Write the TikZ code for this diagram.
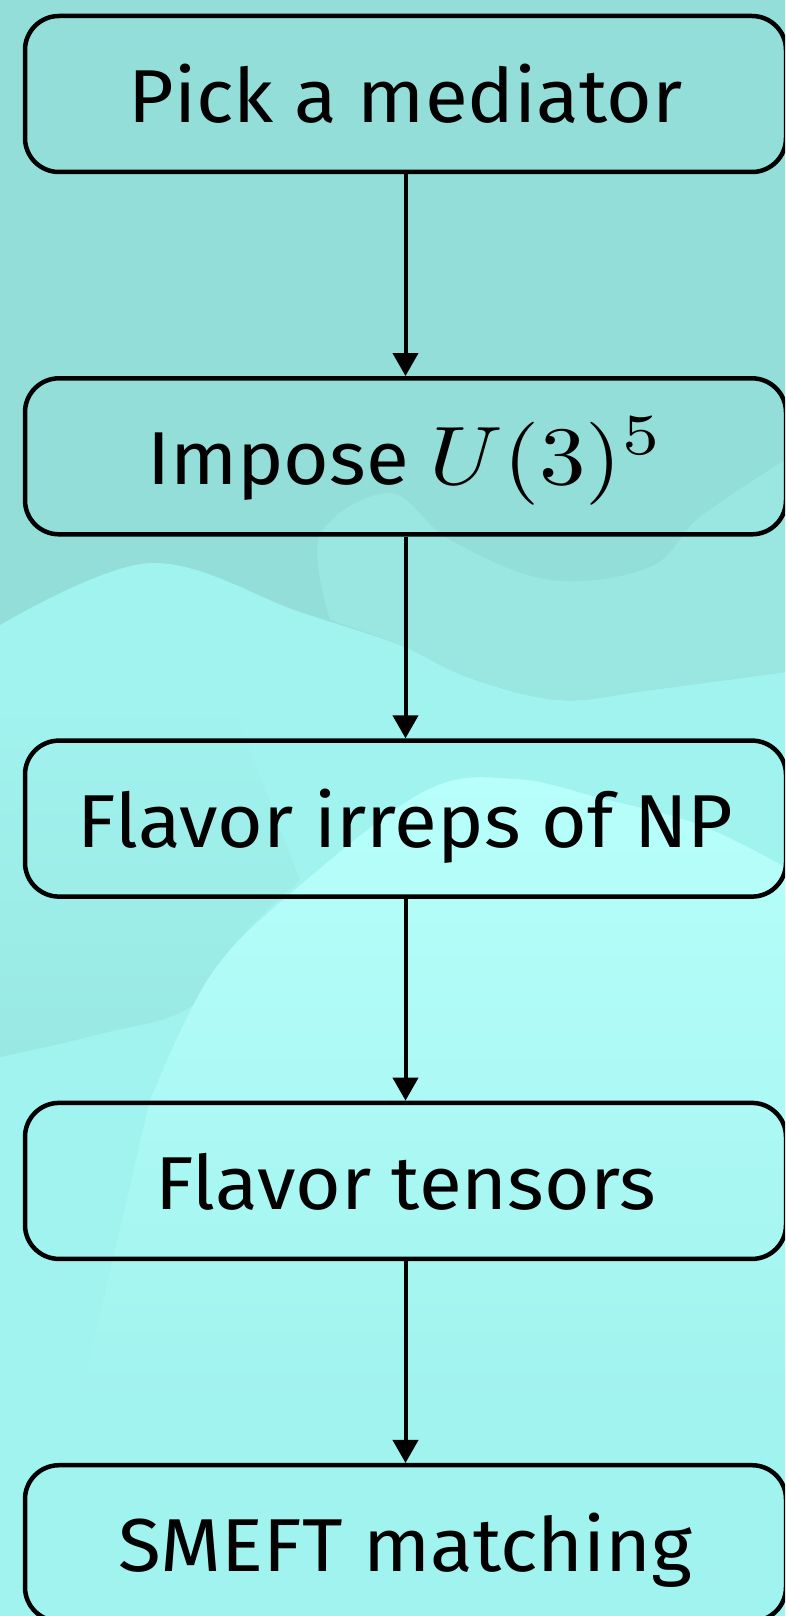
\RequirePackage{fix-cm}
\documentclass[tikz,border=0pt]{standalone}
\usepackage{fontspec}
\setmainfont[FakeStretch=1.045]{Fira Sans}
\usetikzlibrary{arrows.meta}
\definecolor{bgB}{HTML}{A1F3EF}
\definecolor{bgT}{HTML}{94DED9}
\definecolor{bgM}{HTML}{9AE6E1}
\definecolor{bgL}{HTML}{99E8E3}
\definecolor{bgBright}{HTML}{B8FFFB}
\newcommand{\bigmath}[1]{\scalebox{9.3}[8.3]{\fontsize{10}{12}\selectfont\(#1\)}}
\begin{document}
\begin{tikzpicture}[x=1pt,y=-1pt,
  flowbox/.style={draw=black, line width=4.5pt, rounded corners=34pt,
    minimum width=761pt, minimum height=156pt, inner sep=0pt,
    text height=57pt, text depth=0pt, font=\fontsize{75pt}{90pt}\selectfont},
  flowarrow/.style={line width=4pt, -{Triangle[length=23pt,width=25pt]}}]
\path[use as bounding box, clip] (0,0) rectangle (785,1616);
% background
\fill[bgB] (0,0) rectangle (785,1616);
\shade[top color=bgB, bottom color=bgL]
  (0,700) -- (230,700) -- (300,880) -- plot[smooth, tension=0.6] coordinates {(300,880) (240,938) (190,1007) (100,1034) (0,1057)} -- cycle;
\shade[top color=bgBright, bottom color=bgB]
  plot[smooth, tension=0.6] coordinates {(150,1100) (210,976) (290,894) (425,791) (515,779) (600,798) (700,825) (785,867)} -- (785,1400) -- (80,1400) -- cycle;
\fill[bgT] (0,0) -- (0,625) -- plot[smooth, tension=0.6] coordinates {(0,625) (150,563) (300,612) (400,645) (470,678) (560,700) (650,690) (785,672)} -- (785,0) -- cycle;
\fill[bgM] plot[smooth, tension=0.6] coordinates {(785,460) (700,517) (650,567) (550,580) (450,540) (390,493) (320,535) (330,620)}
  -- plot[smooth, tension=0.6] coordinates {(330,620) (400,645) (470,678) (560,700) (650,690) (785,672)} -- cycle;
% boxes
\node[flowbox] (b1) at (405.5,94) {Pick a mediator};
\node[flowbox] (b2) at (405.5,456.3) {Impose \bigmath{U(3)^5}};
\node[flowbox] (b3) at (405.5,818.6) {Flavor irreps of NP};
\node[flowbox] (b4) at (405.5,1180.9) {Flavor tensors};
\node[flowbox] (b5) at (405.5,1543.2) {SMEFT matching};
% arrows
\draw[flowarrow] (b1) -- (b2);
\draw[flowarrow] (b2) -- (b3);
\draw[flowarrow] (b3) -- (b4);
\draw[flowarrow] (b4) -- (b5);
\end{tikzpicture}
\end{document}
